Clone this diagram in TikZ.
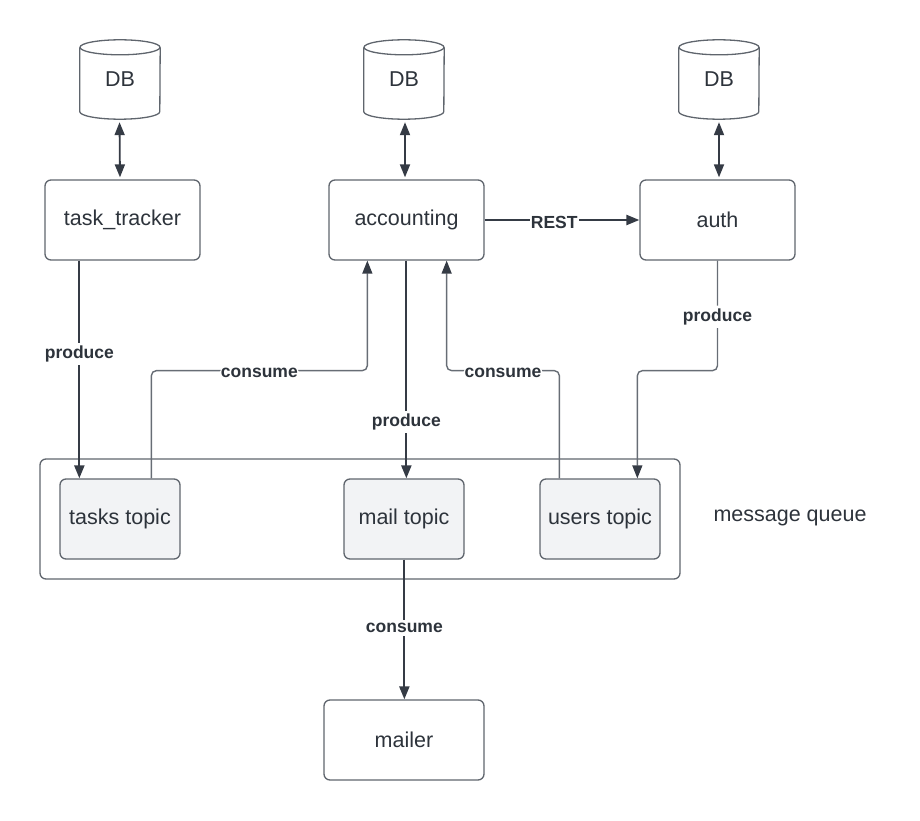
\documentclass[tikz,border=0pt]{standalone}
\usepackage{fontspec}
\setmainfont{Liberation Sans}
\usetikzlibrary{arrows.meta,calc}
\definecolor{ink}{HTML}{2D333B}
\definecolor{wire}{HTML}{353B45}
\definecolor{wirethin}{HTML}{676D75}
\definecolor{edge}{HTML}{5F656D}
\definecolor{topicfill}{HTML}{F2F3F5}
\begin{document}
\begin{tikzpicture}[x=1pt,y=-1pt,
  every node/.style={text=ink},
  body/.style={font=\fontsize{21.5}{26}\selectfont},
  svc/.style={body,draw=edge,line width=1.3pt,rounded corners=6pt,minimum width=155pt,minimum height=80pt,inner sep=0pt},
  topic/.style={body,draw=edge,line width=1.3pt,rounded corners=6pt,fill=topicfill,minimum width=120pt,minimum height=80pt,inner sep=0pt},
  dbnode/.style={body,minimum width=80pt,minimum height=79pt,inner sep=0pt},
  cyl/.style={draw=edge,line width=1.3pt},
  flowtip/.tip={Triangle[length=13pt,width=10pt,color=wire,fill=wire]},
  heavy/.style={draw=wire,line width=2.2pt,-flowtip},
  light/.style={draw=wirethin,line width=1.4pt,rounded corners=5pt,-flowtip},
  dblink/.style={draw=wire,line width=1.8pt,flowtip-flowtip,shorten <=3pt,shorten >=2pt},
  lbl/.style={font=\fontsize{17.5}{21}\selectfont\bfseries,fill=white,inner xsep=1pt,inner ysep=3pt}
]
\useasboundingbox (0,0) rectangle (920,821);

% databases
\foreach \nm/\cx in {dbA/120,dbB/404,dbC/719}{
  \node[dbnode] (\nm) at (\cx,79.5) {\raisebox{-5.5pt}{DB}};
  \draw[cyl] ($(\nm.north)+(0,7.5)$) ellipse[x radius=40pt,y radius=7.5pt];
  \draw[cyl] ($(\nm.north west)+(0,7.5)$) -- ($(\nm.south west)+(0,-7.5)$)
    arc[start angle=180,end angle=360,x radius=40pt,y radius=7.5pt]
    -- ($(\nm.north east)+(0,7.5)$);
}

% services
\node[svc] (tt) at (122.5,220) {task\_tracker};
\node[svc] (acc) at (406.5,220) {accounting};
\node[svc] (auth) at (717.5,220) {auth};

% message queue
\node[draw=edge,line width=1.3pt,rounded corners=6pt,minimum width=640pt,minimum height=120pt] (mq) at (360,519) {};
\node[topic] (tasks) at (120,519) {tasks topic};
\node[topic] (mail) at (404,519) {mail topic};
\node[topic] (users) at (600,519) {users topic};
\node[body] (mqname) at (790,518) {message queue};

\node[svc,minimum width=160pt] (mailer) at (404,740) {mailer};

% database links
\draw[dblink] ([xshift=-0.5]dbA.south) -- (dbA.south |- tt.north);
\draw[dblink] ([xshift=1]dbB.south) -- ([xshift=1]dbB.south |- acc.north);
\draw[dblink] (dbC.south) -- (dbC.south |- auth.north);

% REST call
\draw[heavy] (acc.east) -- node[lbl,pos=0.45,inner ysep=1pt,yshift=-2pt] {REST} (auth.west);

% producers
\draw[heavy] ([xshift=35]tt.south west) -- node[lbl,pos=0.43] {produce} ([xshift=20]tasks.north west);
\draw[heavy] ([xshift=78]acc.south west) -- node[lbl,pos=0.74] {produce} ([xshift=63]mail.north west);
\draw[light] (auth.south) -- node[lbl,pos=0.51] {produce} ++(0,110) -| ([xshift=98]users.north west);

% consumers
\draw[light] ([xshift=92]tasks.north west) |- node[lbl,pos=0.75,inner ysep=1pt,yshift=-2pt] {consume} ($([xshift=39]acc.south west)+(0,110)$) -- ([xshift=39]acc.south west);
\draw[light] ([xshift=20]users.north west) |- node[lbl,pos=0.75,inner ysep=1pt,yshift=-2pt] {consume} ($([xshift=-38]acc.south east)+(0,110)$) -- ([xshift=-38]acc.south east);
\draw[heavy] ([xshift=61]mail.south west) -- node[lbl,pos=0.49] {consume} ([xshift=81]mailer.north west);
\end{tikzpicture}
\end{document}
